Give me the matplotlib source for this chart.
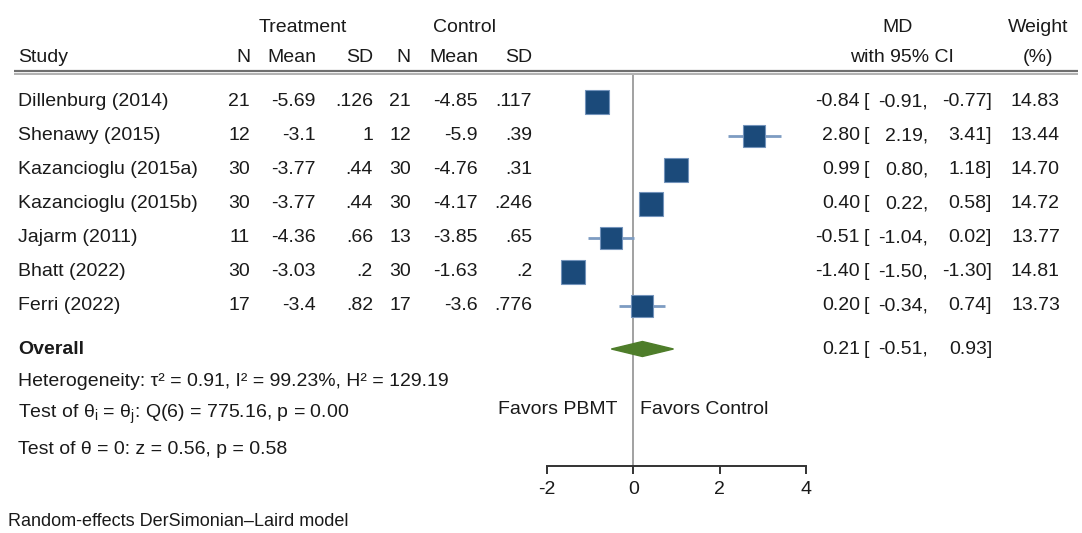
import numpy as np
import matplotlib
matplotlib.use("Agg")
import matplotlib.pyplot as plt
from matplotlib.patches import Polygon

plt.rcParams["font.family"] = ["Liberation Sans", "DejaVu Sans"]
plt.rcParams["mathtext.fontset"] = "custom"
plt.rcParams["mathtext.rm"] = "Liberation Sans"
plt.rcParams["mathtext.it"] = "Liberation Sans"

# ---------------------------------------------------------------------
# Data
# ---------------------------------------------------------------------
studies = ["Dillenburg (2014)", "Shenawy (2015)", "Kazancioglu (2015a)",
           "Kazancioglu (2015b)", "Jajarm (2011)", "Bhatt (2022)", "Ferri (2022)"]
n_treat = [21, 12, 30, 30, 11, 30, 17]
mean_treat = [-5.69, -3.1, -3.77, -3.77, -4.36, -3.03, -3.4]
sd_treat = [0.126, 1, 0.44, 0.44, 0.66, 0.2, 0.82]
n_ctrl = [21, 12, 30, 30, 13, 30, 17]
mean_ctrl = [-4.85, -5.9, -4.76, -4.17, -3.85, -1.63, -3.6]
sd_ctrl = [0.117, 0.39, 0.31, 0.246, 0.65, 0.2, 0.776]
md = [-0.84, 2.80, 0.99, 0.40, -0.51, -1.40, 0.20]
ci_lo = [-0.91, 2.19, 0.80, 0.22, -1.04, -1.50, -0.34]
ci_hi = [-0.77, 3.41, 1.18, 0.58, 0.02, -1.30, 0.74]
weight = [14.83, 13.44, 14.70, 14.72, 13.77, 14.81, 13.73]

overall_md, overall_lo, overall_hi = 0.21, -0.51, 0.93
het_text = "Heterogeneity: τ² = 0.91, I² = 99.23%, H² = 129.19"
q_text = "Test of θ$_i$ = θ$_j$: Q(6) = 775.16, p = 0.00"
z_text = "Test of θ = 0: z = 0.56, p = 0.58"
x_ticks = [-2, 0, 2, 4]

# ---------------------------------------------------------------------
# Layout (pixels)
# ---------------------------------------------------------------------
W, H = 1082, 533
FS = 14
TXT = "#1a1a1a"


def row_y(i):
    return 102 + 34 * i


def stata_num(v):
    s = f"{v:g}"
    if s.startswith("0."):
        s = s[1:]
    return s


def ci_text(y, est, lo, hi):
    ax.text(860, y, f"{est:.2f}", ha="right", va="center", fontsize=FS, color=TXT)
    ax.text(864, y, "[", ha="left", va="center", fontsize=FS, color=TXT)
    ax.text(928, y, f"{lo:.2f},", ha="right", va="center", fontsize=FS, color=TXT)
    ax.text(992, y, f"{hi:.2f}]", ha="right", va="center", fontsize=FS, color=TXT)


fig = plt.figure(figsize=(W / 100, H / 100), dpi=100)
ax = fig.add_axes([0, 0, 1, 1])
ax.set_xlim(0, W)
ax.set_ylim(H, 0)
ax.axis("off")

# header
ax.text(303, 28, "Treatment", ha="center", va="center", fontsize=FS, color=TXT)
ax.text(465, 28, "Control", ha="center", va="center", fontsize=FS, color=TXT)
ax.text(898, 28, "MD", ha="center", va="center", fontsize=FS, color=TXT)
ax.text(1038, 28, "Weight", ha="center", va="center", fontsize=FS, color=TXT)

col_x = [250, 316, 373, 411, 478, 532]
heads = ["N", "Mean", "SD", "N", "Mean", "SD"]
ax.text(18, 57, "Study", ha="left", va="center", fontsize=FS, color=TXT)
for x, h in zip(col_x, heads):
    ax.text(x, 57, h, ha="right", va="center", fontsize=FS, color=TXT)
ax.text(902, 57, "with 95% CI", ha="center", va="center", fontsize=FS, color=TXT)
ax.text(1038, 57, "(%)", ha="center", va="center", fontsize=FS, color=TXT)

ax.plot([14, 1078], [71, 71], color="#6e6e6e", lw=1.6, solid_capstyle="butt")
ax.plot([14, 1078], [73.5, 73.5], color="#b0b0b0", lw=1.4, solid_capstyle="butt")

# study rows
for i, s in enumerate(studies):
    y = row_y(i)
    ax.text(18, y, s, ha="left", va="center", fontsize=FS, color=TXT)
    vals = [str(n_treat[i]), stata_num(mean_treat[i]), stata_num(sd_treat[i]),
            str(n_ctrl[i]), stata_num(mean_ctrl[i]), stata_num(sd_ctrl[i])]
    for x, v in zip(col_x, vals):
        ax.text(x, y, v, ha="right", va="center", fontsize=FS, color=TXT)
    ci_text(y, md[i], ci_lo[i], ci_hi[i])
    ax.text(1060, y, f"{weight[i]:.2f}", ha="right", va="center", fontsize=FS, color=TXT)

# overall
y_ov = 349
ax.text(18, y_ov, "Overall", ha="left", va="center", fontsize=FS, color=TXT,
        fontweight="bold")
ci_text(y_ov, overall_md, overall_lo, overall_hi)

ax.text(18, 382, het_text, ha="left", va="center", fontsize=FS, color=TXT)
ax.text(18, 414, q_text, ha="left", va="center", fontsize=FS, color=TXT)
ax.text(18, 449, z_text, ha="left", va="center", fontsize=FS, color=TXT)
ax.text(8, 521, "Random-effects DerSimonian–Laird model", ha="left", va="center",
        fontsize=FS - 1, color=TXT)

ax.text(618, 410, "Favors PBMT", ha="right", va="center", fontsize=FS, color=TXT)
ax.text(640, 410, "Favors Control", ha="left", va="center", fontsize=FS, color=TXT)

# ---------------------------------------------------------------------
# Forest panel
# ---------------------------------------------------------------------
top_px, bot_px = 75, 466
left_px, right_px = 547, 806
fx = fig.add_axes([left_px / W, 1 - bot_px / H, (right_px - left_px) / W,
                   (bot_px - top_px) / H])
fx.set_xlim(x_ticks[0], x_ticks[-1])
fx.set_ylim(bot_px, top_px)
fx.patch.set_alpha(0)
for side in ["top", "right", "left"]:
    fx.spines[side].set_visible(False)
fx.spines["bottom"].set_color("#333333")
fx.spines["bottom"].set_linewidth(1.4)
fx.set_yticks([])
fx.set_xticks(x_ticks)
fx.set_xticklabels([str(t) for t in x_ticks], fontsize=FS, color=TXT)
fx.tick_params(axis="x", length=6, width=1.4, pad=5, color="#333333")

fx.axvline(0, color="#9a9a9a", lw=1.3, zorder=1)

for i in range(len(studies)):
    y = row_y(i)
    fx.plot([ci_lo[i], ci_hi[i]], [y, y], color="#7d9cc2", lw=2, zorder=2,
            solid_capstyle="butt", clip_on=False)
    ms = 17 * np.sqrt(weight[i] / max(weight))
    fx.plot(md[i], y, marker="s", ms=ms, mfc="#1b4a7a", mec="#7393bb", mew=0.8,
            zorder=3, clip_on=False)

diamond = Polygon([[overall_lo, y_ov], [overall_md, y_ov - 7.5],
                   [overall_hi, y_ov], [overall_md, y_ov + 7.5]],
                  closed=True, facecolor="#4e7d2a", edgecolor="#4e7d2a", zorder=3)
fx.add_patch(diamond)

fig.savefig("out.png", dpi=100)
